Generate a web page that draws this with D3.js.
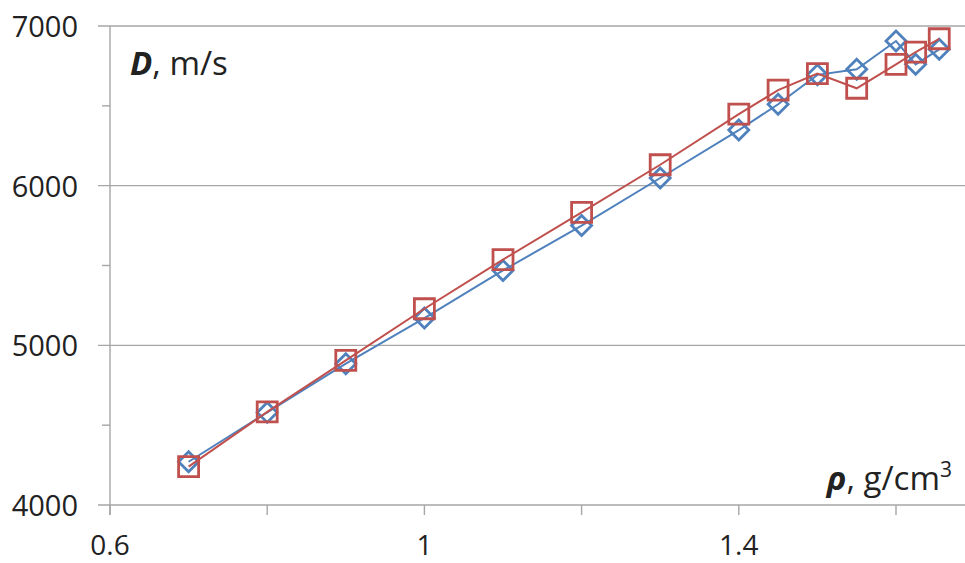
<!DOCTYPE html>
<html>
<head>
<meta charset="utf-8">
<script src="https://cdn.jsdelivr.net/npm/d3@7"></script>
<style>
  html, body { margin: 0; padding: 0; background: #fff; }
  svg { display: block; }
  text { font-family: "Open Sans", "Liberation Sans", sans-serif; fill: #222; }
</style>
</head>
<body>
<svg id="chart" width="965" height="563"></svg>
<script>
// Density, g/cm3
const density = [0.7, 0.8, 0.9, 1.0, 1.1, 1.2, 1.3, 1.4, 1.45, 1.5, 1.55, 1.6, 1.625, 1.655];
// Detonation velocity, m/s — calculated (diamonds) and measured (squares)
const velocityA = [4271, 4580, 4885, 5171, 5469, 5750, 6048, 6348, 6510, 6694, 6729, 6906, 6760, 6854];
const velocityB = [4240, 4583, 4906, 5229, 5537, 5833, 6131, 6448, 6598, 6702, 6610, 6760, 6837, 6920];
// Axis ticks
const xMajorTicks = [0.6, 1.0, 1.4];
const xMinorTicks = [0.8, 1.2, 1.6];
const yMajorTicks = [4000, 5000, 6000, 7000];
const yMinorTicks = [4500, 5500, 6500];

const svg = d3.select("#chart");
const W = 965, H = 563;

const x = d3.scaleLinear().domain([0.6, 1.8]).range([110, 110 + 1.2 * 786]);
const y = d3.scaleLinear().domain([4000, 7000]).range([505, 26]);

const axisColor = "#a6a6a6";

// horizontal gridlines (extend left to form the major ticks)
svg.append("g").selectAll("line").data(yMajorTicks).join("line")
  .attr("x1", 98).attr("x2", W)
  .attr("y1", d => y(d)).attr("y2", d => y(d))
  .attr("stroke", axisColor).attr("stroke-width", 1.4);

// y minor ticks
svg.append("g").selectAll("line").data(yMinorTicks).join("line")
  .attr("x1", 102).attr("x2", 110)
  .attr("y1", d => y(d)).attr("y2", d => y(d))
  .attr("stroke", axisColor).attr("stroke-width", 1.4);

// y axis line
svg.append("line")
  .attr("x1", x(0.6)).attr("x2", x(0.6))
  .attr("y1", y(7000)).attr("y2", y(4000) + 10)
  .attr("stroke", axisColor).attr("stroke-width", 1.4);

// x ticks
svg.append("g").selectAll("line").data(xMajorTicks.concat(xMinorTicks)).join("line")
  .attr("x1", d => x(d)).attr("x2", d => x(d))
  .attr("y1", y(4000)).attr("y2", y(4000) + 10)
  .attr("stroke", axisColor).attr("stroke-width", 1.4);

// y tick labels
svg.append("g").selectAll("text").data(yMajorTicks).join("text")
  .attr("x", 78).attr("y", d => y(d) + 11)
  .attr("text-anchor", "end")
  .attr("font-size", 29)
  .text(d => d);

// x tick labels
svg.append("g").selectAll("text").data(xMajorTicks).join("text")
  .attr("x", d => x(d)).attr("y", 555)
  .attr("text-anchor", "middle")
  .attr("font-size", 28)
  .text(d => d3.format("")(d));

// series
const half = 10;
const diamondPath = `M0,${-half}L${half},0L0,${half}L${-half},0Z`;
const squarePath = `M${-half},${-half}H${half}V${half}H${-half}Z`;

function drawSeries(values, color, markerPath) {
  const pts = density.map((d, i) => [d, values[i]]);
  const g = svg.append("g");
  g.append("path")
    .attr("d", d3.line().x(d => x(d[0])).y(d => y(d[1]))(pts))
    .attr("fill", "none").attr("stroke", color).attr("stroke-width", 2);
  g.selectAll("path.m").data(pts).join("path")
    .attr("class", "m")
    .attr("d", markerPath)
    .attr("transform", d => `translate(${x(d[0])},${y(d[1])})`)
    .attr("fill", "none").attr("stroke", color).attr("stroke-width", 2.8);
}
drawSeries(velocityA, "#4f81bd", diamondPath);
drawSeries(velocityB, "#c0504d", squarePath);

// axis titles
const yTitle = svg.append("text").attr("x", 130).attr("y", 75).attr("font-size", 33);
yTitle.append("tspan").attr("font-weight", "bold").attr("font-style", "italic").text("D");
yTitle.append("tspan").text(", m/s");

const xTitle = svg.append("text").attr("x", 952).attr("y", 490).attr("font-size", 33).attr("text-anchor", "end");
xTitle.append("tspan").attr("font-weight", "bold").attr("font-style", "italic").text("ρ");
xTitle.append("tspan").text(", g/cm");
xTitle.append("tspan").attr("font-size", 21).attr("dy", -13).text("3");
</script>
</body>
</html>
